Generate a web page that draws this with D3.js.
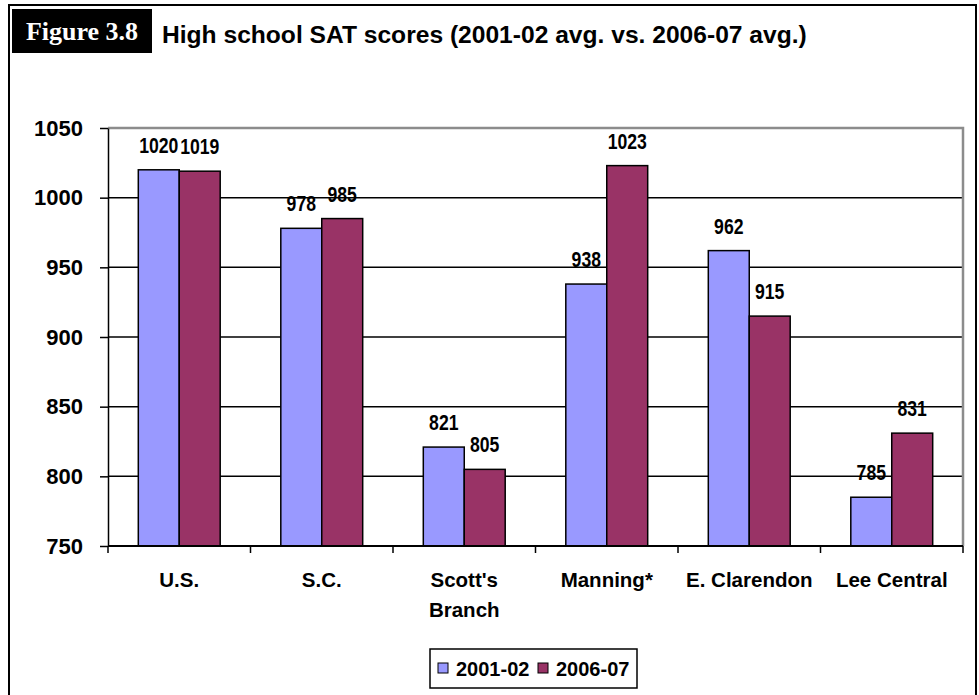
<!DOCTYPE html>
<html>
<head>
<meta charset="utf-8">
<script src="https://cdn.jsdelivr.net/npm/d3@7"></script>
<style>
	body { margin: 0; background: white; }
	text { font-family: "Liberation Sans", Arial, sans-serif; font-weight: bold; }
</style>
</head>
<body>
<div id="chart"></div>
<script>
// Data
const categories = ["U.S.", "S.C.", "Scott's\nBranch", "Manning*", "E. Clarendon", "Lee Central"];
const seriesNames = ["2001-02", "2006-07"];
const scores_2001 = [1020, 978, 821, 938, 962, 785];
const scores_2006 = [1019, 985, 805, 1023, 915, 831];
const yTicks = [750, 800, 850, 900, 950, 1000, 1050];
const colors = ["#9999FF", "#993366"];

const width = 979, height = 695;
const plot = {left: 108, right: 963, top: 128, bottom: 546};

var svg = d3.select("#chart")
	.append("svg")
		.attr("width", width)
		.attr("height", height);

// outer frame
svg.append("rect")
	.attr("x", 9).attr("y", 5)
	.attr("width", 967).attr("height", 740)
	.attr("fill", "none")
	.attr("stroke", "black")
	.attr("stroke-width", 2);

// figure tag + title
svg.append("rect")
	.attr("x", 12).attr("y", 9)
	.attr("width", 140).attr("height", 44)
	.attr("fill", "black");
svg.append("text")
	.attr("x", 82).attr("y", 40)
	.attr("text-anchor", "middle")
	.attr("fill", "white")
	.style("font-family", "'Liberation Serif', 'Times New Roman', serif")
	.style("font-size", "26px")
	.text("Figure 3.8");
svg.append("text")
	.attr("x", 162).attr("y", 43)
	.style("font-size", "24.6px")
	.text("High school SAT scores (2001-02 avg. vs. 2006-07 avg.)");

// scales
var x0 = d3.scaleBand().domain(categories).range([plot.left, plot.right]);
var x1 = d3.scaleBand().domain(seriesNames).range([0, x0.bandwidth()]).paddingOuter(0.74);
var y = d3.scaleLinear().domain([750, 1050]).range([plot.bottom, plot.top]);

// gridlines
svg.append("g")
	.selectAll("line")
	.data(yTicks.filter(function(d) { return d > 750 && d < 1050; }))
	.join("line")
		.attr("x1", plot.left).attr("x2", plot.right)
		.attr("y1", function(d) { return y(d); })
		.attr("y2", function(d) { return y(d); })
		.attr("stroke", "black")
		.attr("stroke-width", 1.5);

// plot area border (top/right in gray)
svg.append("path")
	.attr("d", `M${plot.left},${y(1050)}H${plot.right}V${plot.bottom}`)
	.attr("fill", "none")
	.attr("stroke", "#8c8c8c")
	.attr("stroke-width", 2.5);

// bars
var rows = categories.map(function(c, i) {
	return {cat: c, values: [
		{key: seriesNames[0], value: scores_2001[i], color: colors[0]},
		{key: seriesNames[1], value: scores_2006[i], color: colors[1]}
	]};
});

var groups = svg.append("g")
	.selectAll("g")
	.data(rows)
	.join("g")
		.attr("transform", function(d) { return `translate(${x0(d.cat)},0)`; });

groups.selectAll("rect")
	.data(function(d) { return d.values; })
	.join("rect")
		.attr("x", function(d) { return x1(d.key); })
		.attr("y", function(d) { return y(d.value); })
		.attr("width", x1.bandwidth())
		.attr("height", function(d) { return plot.bottom - y(d.value); })
		.attr("fill", function(d) { return d.color; })
		.attr("stroke", "black")
		.attr("stroke-width", 1.5);

// value labels (condensed like the original)
groups.selectAll("text")
	.data(function(d) { return d.values; })
	.join("text")
		.attr("transform", function(d) {
			return `translate(${x1(d.key) + x1.bandwidth() / 2},${y(d.value) - 17}) scale(0.8,1)`;
		})
		.attr("text-anchor", "middle")
		.style("font-size", "22px")
		.text(function(d) { return d.value; });

// Y axis
var yAxis = d3.axisLeft(y).tickValues(yTicks).tickFormat(d3.format("d"))
	.tickSize(8).tickSizeOuter(0).tickPadding(17);
var yg = svg.append("g")
	.attr("transform", `translate(${plot.left},0)`)
	.call(yAxis);
yg.selectAll("text").style("font-size", "22px").attr("fill", "black");
yg.selectAll("line, path").attr("stroke", "black").attr("stroke-width", 1.5);

// X axis: line with ticks on category boundaries
var xg = svg.append("g");
xg.append("line")
	.attr("x1", plot.left).attr("x2", plot.right)
	.attr("y1", plot.bottom).attr("y2", plot.bottom)
	.attr("stroke", "black")
	.attr("stroke-width", 2);
xg.selectAll(".xtick")
	.data(categories.map(function(c) { return x0(c); }).concat([plot.right]))
	.join("line")
		.attr("class", "xtick")
		.attr("x1", function(d) { return d; }).attr("x2", function(d) { return d; })
		.attr("y1", plot.bottom).attr("y2", plot.bottom + 7)
		.attr("stroke", "black")
		.attr("stroke-width", 1.5);

xg.selectAll(".xlabel")
	.data(categories)
	.join("text")
		.attr("class", "xlabel")
		.attr("x", function(d) { return x0(d) + x0.bandwidth() / 2; })
		.attr("y", 587)
		.attr("text-anchor", "middle")
		.style("font-size", "20.5px")
		.each(function(d) {
			var parts = d.split("\n");
			var t = d3.select(this);
			parts.forEach(function(p, i) {
				t.append("tspan")
					.attr("x", x0(d) + x0.bandwidth() / 2)
					.attr("dy", i == 0 ? 0 : 30)
					.text(p);
			});
		});

// legend
var legend = svg.append("g").attr("transform", "translate(430,649)");
legend.append("rect")
	.attr("width", 207).attr("height", 39)
	.attr("fill", "white")
	.attr("stroke", "black")
	.attr("stroke-width", 1.5);
var legendX = [8, 108];
seriesNames.forEach(function(s, i) {
	legend.append("rect")
		.attr("x", legendX[i]).attr("y", 14)
		.attr("width", 10).attr("height", 10)
		.attr("fill", colors[i])
		.attr("stroke", "black");
	legend.append("text")
		.attr("x", legendX[i] + 18).attr("y", 27)
		.style("font-size", "20px")
		.text(s);
});
</script>
</body>
</html>
